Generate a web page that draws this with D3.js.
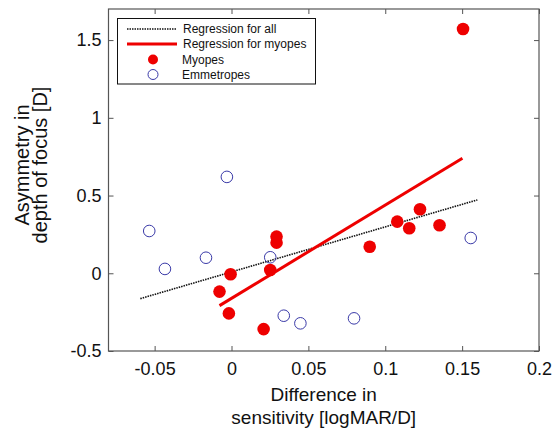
<!DOCTYPE html>
<html>
<head>
<meta charset="utf-8">
<script src="https://cdn.jsdelivr.net/npm/d3@7"></script>
<style>
  body { margin: 0; background: #fff; }
  svg { display: block; font-family: "Liberation Sans", Arial, sans-serif; }
</style>
</head>
<body>
<svg id="chart" width="556" height="435"></svg>
<script>
// myopes (filled red)
var myopeX = [0.1506, 0.1078, 0.1156, 0.1226, 0.1353, 0.0293, 0.0293, 0.0899, -0.0006, -0.0078, -0.0017, 0.0252, 0.0209];
var myopeY = [1.571, 0.332, 0.290, 0.412, 0.309, 0.236, 0.197, 0.171, -0.006, -0.118, -0.258, 0.021, -0.359];
// emmetropes (open blue)
var emmX = [-0.0030, -0.0535, 0.1556, -0.0433, -0.0166, 0.0252, 0.0340, 0.0448, 0.0797];
var emmY = [0.620, 0.272, 0.227, 0.028, 0.100, 0.103, -0.273, -0.322, -0.290];
// regression lines (end points)
var regAllX = [-0.0593, 0.1599];
var regAllY = [-0.163, 0.472];
var regMyoX = [-0.0078, 0.1502];
var regMyoY = [-0.208, 0.740];

var xTicks = [-0.05, 0, 0.05, 0.1, 0.15, 0.2];
var yTicks = [-0.5, 0, 0.5, 1, 1.5];
var legendLabels = ["Regression for all", "Regression for myopes", "Myopes", "Emmetropes"];

var svg = d3.select("#chart");
var plotL = 108.5, plotR = 539, plotT = 9, plotB = 351;

var x = d3.scaleLinear().domain([-0.08, 0.2]).range([plotL, plotR]);
var y = d3.scaleLinear().domain([-0.5, 1.7]).range([plotB, plotT]);

var axisColor = "#555";
var tickLen = 5;

// box
svg.append("rect")
  .attr("x", plotL).attr("y", plotT)
  .attr("width", plotR - plotL).attr("height", plotB - plotT)
  .attr("fill", "#fff").attr("stroke", axisColor).attr("stroke-width", 1.2);

// ticks (inward, on all four sides)
var fmt = function(d){ return String(d); };
var gxb = svg.append("g").attr("transform", "translate(0," + plotB + ")")
  .call(d3.axisBottom(x).tickValues(xTicks).tickSizeInner(-tickLen).tickSizeOuter(0).tickPadding(11).tickFormat(fmt));
var gxt = svg.append("g").attr("transform", "translate(0," + plotT + ")")
  .call(d3.axisTop(x).tickValues(xTicks).tickSizeInner(-tickLen).tickSizeOuter(0).tickFormat(""));
var gyl = svg.append("g").attr("transform", "translate(" + plotL + ",0)")
  .call(d3.axisLeft(y).tickValues(yTicks).tickSizeInner(-tickLen).tickSizeOuter(0).tickPadding(7).tickFormat(fmt));
var gyr = svg.append("g").attr("transform", "translate(" + plotR + ",0)")
  .call(d3.axisRight(y).tickValues(yTicks).tickSizeInner(-tickLen).tickSizeOuter(0).tickFormat(""));

[gxb, gxt, gyl, gyr].forEach(function(g) {
  g.select(".domain").remove();
  g.selectAll(".tick line").attr("stroke", axisColor);
  g.selectAll("text").attr("font-family", "Liberation Sans, Arial, sans-serif")
    .attr("font-size", 18).attr("fill", "#111");
});

// axis labels
svg.append("text").attr("x", (plotL + plotR) / 2).attr("y", 401)
  .attr("text-anchor", "middle").attr("font-size", 19).attr("fill", "#111").text("Difference in");
svg.append("text").attr("x", (plotL + plotR) / 2).attr("y", 424)
  .attr("text-anchor", "middle").attr("font-size", 19).attr("fill", "#111").text("sensitivity [logMAR/D]");

var ylab = svg.append("g").attr("transform", "translate(0,165) rotate(-90)");
ylab.append("text").attr("x", 0).attr("y", 29).attr("text-anchor", "middle")
  .attr("font-size", 20).attr("fill", "#111").text("Asymmetry in");
ylab.append("text").attr("x", 0).attr("y", 46.5).attr("text-anchor", "middle")
  .attr("font-size", 20).attr("fill", "#111").text("depth of focus [D]");

// regression lines
var line = d3.line().x(function(d){ return x(d[0]); }).y(function(d){ return y(d[1]); });
svg.append("path").datum(d3.zip(regAllX, regAllY)).attr("d", line)
  .attr("stroke", "#111").attr("stroke-width", 1.6).attr("stroke-dasharray", "1.5,1").attr("fill", "none");
svg.append("path").datum(d3.zip(regMyoX, regMyoY)).attr("d", line)
  .attr("stroke", "#ee0000").attr("stroke-width", 3).attr("fill", "none");

// points
svg.selectAll("circle.emm").data(d3.zip(emmX, emmY)).enter().append("circle")
  .attr("class", "emm")
  .attr("cx", function(d){ return x(d[0]); }).attr("cy", function(d){ return y(d[1]); })
  .attr("r", 5.8).attr("fill", "none").attr("stroke", "#3a3aa8").attr("stroke-width", 1);
svg.selectAll("circle.myo").data(d3.zip(myopeX, myopeY)).enter().append("circle")
  .attr("class", "myo")
  .attr("cx", function(d){ return x(d[0]); }).attr("cy", function(d){ return y(d[1]); })
  .attr("r", 6.3).attr("fill", "#ee0000");

// legend
var lg = svg.append("g");
lg.append("rect").attr("x", 117.5).attr("y", 18.5).attr("width", 198).attr("height", 65.5)
  .attr("fill", "#fff").attr("stroke", "#111").attr("stroke-width", 1);
var rowY = [29, 44, 59.5, 74.5];
lg.append("line").attr("x1", 127).attr("x2", 177).attr("y1", rowY[0]).attr("y2", rowY[0])
  .attr("stroke", "#111").attr("stroke-width", 1.6).attr("stroke-dasharray", "1.5,1");
lg.append("line").attr("x1", 127).attr("x2", 177).attr("y1", rowY[1]).attr("y2", rowY[1])
  .attr("stroke", "#ee0000").attr("stroke-width", 3);
lg.append("circle").attr("cx", 153).attr("cy", rowY[2]).attr("r", 5).attr("fill", "#ee0000");
lg.append("circle").attr("cx", 153).attr("cy", rowY[3]).attr("r", 5).attr("fill", "none")
  .attr("stroke", "#3a3aa8").attr("stroke-width", 1);
lg.selectAll("text.lab").data(legendLabels).enter().append("text")
  .attr("class", "lab")
  .attr("x", function(d, i){ return i < 2 ? 183 : 182; })
  .attr("y", function(d, i){ return rowY[i] + 4; })
  .attr("font-size", 12).attr("fill", "#111").text(function(d){ return d; });
</script>
</body>
</html>
